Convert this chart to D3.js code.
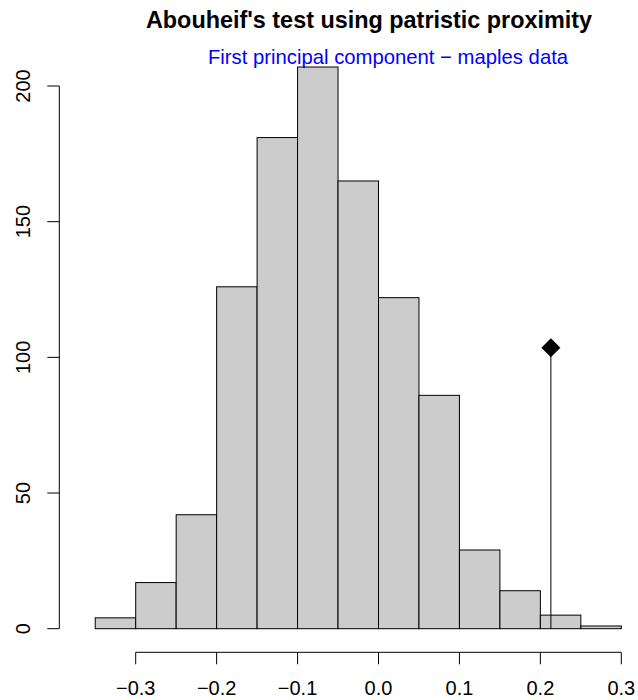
<!DOCTYPE html>
<html>
  <head>
    <meta charset="utf-8">
    <script src="https://d3js.org/d3.v7.min.js"></script>
    <style>
      body { margin: 0; background: #fff; }
      text { font-family: "Liberation Sans", Arial, Helvetica, sans-serif; }
    </style>
  </head>
  <body>
    <div id="chart"></div>
    <script>
      // Histogram of simulated values (bins of width 0.05)
      const breaks = [-0.35, -0.3, -0.25, -0.2, -0.15, -0.1, -0.05, 0, 0.05, 0.1, 0.15, 0.2, 0.25, 0.3];
      const counts = [4, 17, 42, 126, 181, 207, 165, 122, 86, 29, 14, 5, 1];
      const xTicks = [-0.3, -0.2, -0.1, 0.0, 0.1, 0.2, 0.3];
      const yTicks = [0, 50, 100, 150, 200];
      const observed = 0.213;
      const titleText = "Abouheif's test using patristic proximity";
      const subText = "First principal component \u2212 maples data";

      const W = 638, H = 700;

      const svg = d3.select("#chart")
        .append("svg")
        .attr("width", W)
        .attr("height", H);

      // Scales
      const x = d3.scaleLinear().domain([-0.3, 0.3]).range([135.7, 621.3]);
      const y = d3.scaleLinear().domain([0, 200]).range([628.7, 86]);

      // Bars
      const bins = counts.map((c, i) => ({ x0: breaks[i], x1: breaks[i + 1], n: c }));
      svg.append("g")
        .selectAll("rect")
        .data(bins)
        .join("rect")
        .attr("x", d => x(d.x0))
        .attr("y", d => y(d.n))
        .attr("width", d => x(d.x1) - x(d.x0))
        .attr("height", d => y(0) - y(d.n))
        .attr("fill", "#cccccc")
        .attr("stroke", "#000")
        .attr("stroke-width", 1);

      // Observed value: segment + diamond at half the max count
      const yObs = d3.max(counts) / 2;
      svg.append("line")
        .attr("x1", x(observed)).attr("x2", x(observed))
        .attr("y1", y(0)).attr("y2", y(yObs))
        .attr("stroke", "#000")
        .attr("stroke-width", 1);
      const r = 9.5;
      svg.append("path")
        .attr("d", `M${x(observed)},${y(yObs) - r}L${x(observed) + r},${y(yObs)}L${x(observed)},${y(yObs) + r}L${x(observed) - r},${y(yObs)}Z`)
        .attr("fill", "#000");

      // Y axis (R style, labels rotated)
      const axisX = 59.3;
      const yAxis = svg.append("g").attr("stroke", "#000");
      yAxis.append("line")
        .attr("x1", axisX).attr("x2", axisX)
        .attr("y1", y(yTicks[0])).attr("y2", y(yTicks[yTicks.length - 1]));
      yAxis.selectAll(".tick")
        .data(yTicks)
        .join("line")
        .attr("x1", axisX).attr("x2", axisX - 12)
        .attr("y1", d => y(d)).attr("y2", d => y(d));
      svg.append("g")
        .selectAll("text")
        .data(yTicks)
        .join("text")
        .attr("transform", d => `translate(30, ${y(d)}) rotate(-90)`)
        .attr("text-anchor", "middle")
        .attr("font-size", "20px")
        .text(d => d);

      // X axis
      const axisY = 652.3;
      const xAxis = svg.append("g").attr("stroke", "#000");
      xAxis.append("line")
        .attr("x1", x(xTicks[0])).attr("x2", x(xTicks[xTicks.length - 1]))
        .attr("y1", axisY).attr("y2", axisY);
      xAxis.selectAll(".tick")
        .data(xTicks)
        .join("line")
        .attr("x1", d => x(d)).attr("x2", d => x(d))
        .attr("y1", axisY).attr("y2", axisY + 12);
      svg.append("g")
        .selectAll("text")
        .data(xTicks)
        .join("text")
        .attr("x", d => x(d))
        .attr("y", 695)
        .attr("text-anchor", "middle")
        .attr("font-size", "20px")
        .text(d => d3.format(".1f")(d));

      // Titles
      svg.append("text")
        .attr("x", 369)
        .attr("y", 28)
        .attr("text-anchor", "middle")
        .attr("font-size", "23.4px")
        .attr("font-weight", "bold")
        .text(titleText);

      svg.append("text")
        .attr("x", 388)
        .attr("y", 64)
        .attr("text-anchor", "middle")
        .attr("font-size", "20.3px")
        .attr("fill", "#0000ff")
        .text(subText);
    </script>
  </body>
</html>
